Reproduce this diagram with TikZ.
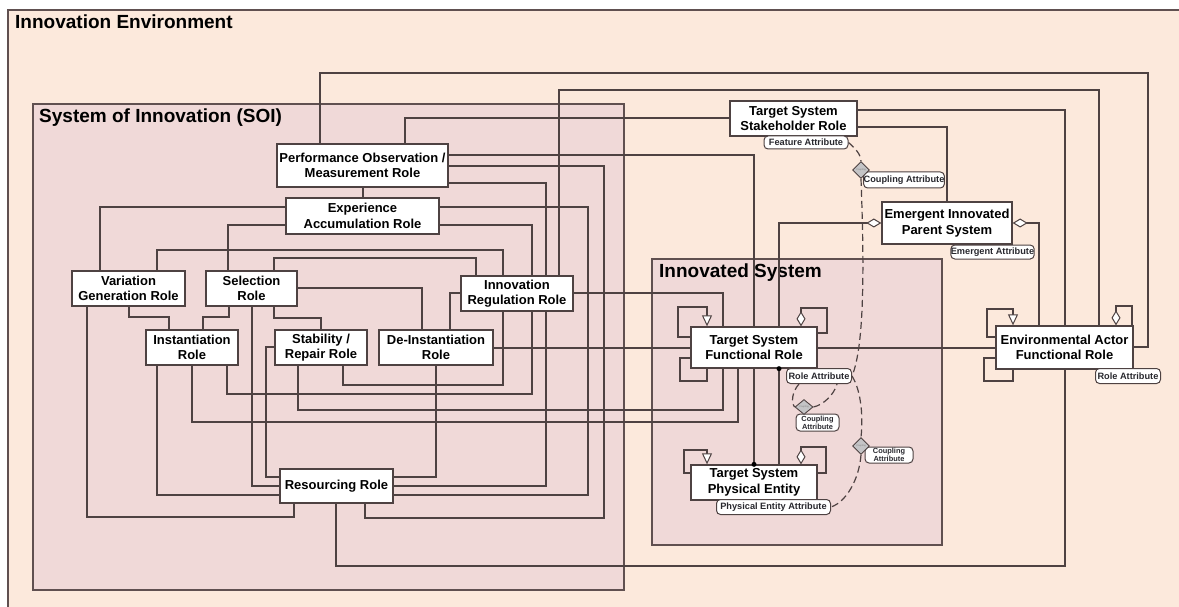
\documentclass[tikz,border=0pt]{standalone}
\usepackage{fontspec}
\setmainfont{Liberation Sans}
\usetikzlibrary{arrows.meta,shapes.geometric}
\definecolor{envbg}{RGB}{252,233,220}
\definecolor{soibg}{RGB}{240,217,216}
\definecolor{linec}{RGB}{78,66,66}
\definecolor{framec}{RGB}{96,80,80}
\definecolor{attrtext}{RGB}{40,40,46}
\definecolor{coupfill}{RGB}{196,196,198}
\pgfdeclarelayer{frames}
\pgfdeclarelayer{wires}
\pgfsetlayers{frames,wires,main}
\begin{document}
\begin{tikzpicture}[x=1pt,y=-1pt,
  conn/.style={draw=linec,line width=1.25pt},
  dcoup/.style={draw=linec,line width=1.2pt,dash pattern=on 7pt off 4pt},
  rolebox/.style={draw=linec,fill=white,line width=1.3pt,align=center,inner sep=0pt,
    font=\bfseries\fontsize{13}{15.5}\selectfont},
  attr/.style={draw=linec,fill=white,line width=1pt,rounded corners=4pt,inner sep=0pt,
    align=center,text=attrtext,font=\bfseries\fontsize{9.2}{9.5}\selectfont},
  smallattr/.style={attr,font=\bfseries\fontsize{7.4}{7.8}\selectfont},
  couple/.style={shape=diamond,draw=linec,fill=coupfill,line width=0.9pt,inner sep=0pt},
  couptext/.style={text=gray,font=\fontsize{2.4}{2.6}\selectfont,inner sep=0pt},
  frametitle/.style={anchor=base west,inner sep=0pt,font=\bfseries\fontsize{19}{22}\selectfont},
  gen/.style={-{Triangle[length=11pt,width=10pt,fill=white,line width=1pt]}},
  agg/.style={-{Diamond[length=15pt,width=9pt,fill=white,line width=1pt]}},
  aggh/.style={-{Diamond[length=15pt,width=9pt,fill=white,line width=1pt]}},
  joint/.style={fill=black}
]
\clip (0,0) rectangle (1179,607);
\useasboundingbox (0,0) rectangle (1179,607);

% nested environment frames
\begin{pgfonlayer}{frames}
\fill[white] (0,0) rectangle (1179,607);
\draw[framec,fill=envbg,line width=1.4pt] (8,10) rectangle (1195,625);
\node[frametitle] (envtitle) at (15,29) {Innovation Environment};
\draw[framec,fill=soibg,line width=1.4pt] (33,104) rectangle (624,590);
\node[frametitle] (soititle) at (39,123) {System of Innovation (SOI)};
\draw[framec,fill=soibg,line width=1.4pt] (652,259) rectangle (942,545);
\node[frametitle] (istitle) at (659,277) {Innovated System};
\end{pgfonlayer}

% role boxes
\node[rolebox,minimum width=171pt,minimum height=43pt] (perf) at (362.5,165.5) {Performance Observation /\\Measurement Role};
\node[rolebox,minimum width=153pt,minimum height=36pt] (exp) at (362.5,216) {Experience\\Accumulation Role};
\node[rolebox,minimum width=113pt,minimum height=35pt] (var) at (128.5,288.5) {Variation\\Generation Role};
\node[rolebox,minimum width=91pt,minimum height=35pt] (sel) at (251.5,288.5) {Selection\\Role};
\node[rolebox,minimum width=92pt,minimum height=35pt] (inst) at (192,347.5) {Instantiation\\Role};
\node[rolebox,minimum width=92pt,minimum height=35pt] (stab) at (321,347.5) {Stability /\\Repair Role};
\node[rolebox,minimum width=114pt,minimum height=35pt] (deinst) at (436,347.5) {De-Instantiation\\Role};
\node[rolebox,minimum width=112pt,minimum height=35pt] (inreg) at (517,293.5) {Innovation\\Regulation Role};
\node[rolebox,minimum width=113pt,minimum height=34pt] (res) at (336.5,486) {Resourcing Role};
\node[rolebox,minimum width=127pt,minimum height=35pt] (stake) at (793.5,118.5) {Target System\\Stakeholder Role};
\node[rolebox,minimum width=130pt,minimum height=42pt] (emerg) at (947,223) {Emergent Innovated\\Parent System};
\node[rolebox,minimum width=126pt,minimum height=41pt] (tsfr) at (754,347.5) {Target System\\Functional Role};
\node[rolebox,minimum width=126pt,minimum height=35pt] (tspe) at (754,482.5) {Target System\\Physical Entity};
\node[rolebox,minimum width=137pt,minimum height=43pt] (env) at (1064.5,347.5) {Environmental Actor\\Functional Role};

% attribute tags
\node[attr,minimum width=84pt,minimum height=13pt] (fa) at (806,142.5) {Feature Attribute};
\node[attr,minimum width=80pt,minimum height=16pt] (ca1) at (904,180) {Coupling Attribute};
\node[attr,minimum width=82pt,minimum height=14pt] (ea) at (992.5,252) {Emergent Attribute};
\node[attr,minimum width=65pt,minimum height=15pt] (ra1) at (819,376) {Role Attribute};
\node[attr,minimum width=65pt,minimum height=15pt] (ra2) at (1128,376) {Role Attribute};
\node[smallattr,minimum width=43pt,minimum height=17pt] (ca2) at (817.5,422.5) {Coupling\\Attribute};
\node[smallattr,minimum width=48pt,minimum height=16pt] (ca3) at (889,455) {Coupling\\Attribute};
\node[attr,minimum width=114pt,minimum height=15pt] (pea) at (773.5,507) {Physical Entity Attribute};

% coupling diamonds
\node[couple,minimum width=17pt,minimum height=17pt] (c1) at (861,170) {};
\node[couple,minimum width=18pt,minimum height=15pt] (c2) at (804,407) {};
\node[couple,minimum width=17pt,minimum height=17pt] (c3) at (861,446) {};
\foreach \c in {c1,c2,c3} \node[couptext] at (\c) {Coupling};

% connectors between roles
\begin{pgfonlayer}{wires}
\draw[conn] (perf.north -| 320,0) |- (1148,73) |- (env.east |- 0,347);
\draw[conn] (inreg.north -| 559,0) |- (1099,90) -- (env.north -| 1099,0);
\draw[conn] (stake.east |- 0,110) -| (env.north -| 1065,0);
\draw[conn] (stake.east |- 0,127) -| (emerg.north);
\draw[conn] (stake.west |- 0,118) -| (perf.north -| 405,0);
\draw[conn] (perf.east |- 0,155) -| (tspe.north);
\draw[conn] (perf.east |- 0,166) -| (604,518) -| (res.south -| 365,0);
\draw[conn] (perf.east |- 0,183) -| (546,486) -- (res.east |- 0,486);
\draw[conn] (exp.east |- 0,207) -| (588,495) -- (res.east |- 0,495);
\draw[conn] (exp.east |- 0,225) -| (532,394) -| (inst.south -| 227,0);
\draw[conn] (perf.south -| 363,0) -- (exp.north -| 363,0);
\draw[conn] (exp.west |- 0,207) -| (var.north -| 100,0);
\draw[conn] (exp.west |- 0,225) -| (sel.north -| 228,0);
\draw[conn] (var.north -| 157,0) |- (503,250) |- (343,385) -- (stab.south -| 343,0);
\draw[conn] (sel.north -| 274,0) |- (476,258) -- (inreg.north -| 476,0);
\draw[conn] (sel.east |- 0,288) -| (deinst.north -| 422,0);
\draw[conn] (inreg.west |- 0,293) -| (deinst.north -| 450,0);
\draw[conn] (var.south -| 129,0) |- (169,317) -- (inst.north -| 169,0);
\draw[conn] (sel.south -| 229,0) |- (203,317) -- (inst.north -| 203,0);
\draw[conn] (sel.south -| 274,0) |- (321,318) -- (stab.north);
\draw[conn] (var.south -| 87,0) |- (294,517) -- (res.south -| 294,0);
\draw[conn] (sel.south -| 252,0) |- (res.west |- 0,486);
\draw[conn] (stab.west |- 0,347) -| (266,477) -- (res.west |- 0,477);
\draw[conn] (inst.south -| 157,0) |- (res.west |- 0,495);
\draw[conn] (inst.south -| 192,0) |- (738,422) -- (tsfr.south -| 738,0);
\draw[conn] (stab.south -| 298,0) |- (723,410) |- (inreg.east |- 0,293);
\draw[conn] (deinst.south) |- (res.east |- 0,477);
\draw[conn] (deinst.east |- 0,348) -- (tsfr.west |- 0,348);
\draw[conn] (tsfr.east |- 0,348) -- (env.west |- 0,348);
\draw[conn] (res.south -| 336,0) |- (1065,566) -- (env.south -| 1065,0);
\draw[conn] (tsfr.south -| 779,0) -- (tspe.north -| 779,0);

% aggregation into the emergent parent system
\draw[conn,aggh] (tsfr.north -| 779,0) |- (emerg.west);
\draw[conn,aggh] (env.north -| 1039,0) |- (emerg.east);

% self associations
\draw[conn,gen] (tsfr.west |- 0,337) -| (678,307) -| (tsfr.north -| 707,0);
\draw[conn] (tsfr.west |- 0,358) -| (680,381) -| (tsfr.south -| 707,0);
\draw[conn,agg] (tsfr.east |- 0,333) -| (827,308) -| (tsfr.north -| 801,0);
\draw[conn,gen] (tspe.west |- 0,473) -| (684,450) -| (tspe.north -| 707,0);
\draw[conn,agg] (tspe.east |- 0,473) -| (826,447) -| (tspe.north -| 801,0);
\draw[conn,gen] (env.west |- 0,337) -| (987,309) -| (env.north -| 1013,0);
\draw[conn] (env.west |- 0,358) -| (984,381) -| (env.south -| 1013,0);
\draw[conn,agg] (env.north -| 1132,0) |- (1116,306) -- (env.north -| 1116,0);
\end{pgfonlayer}

% attribute couplings
\draw[dcoup] (fa.east) .. controls (856,149) and (861,155) .. (c1.north);
\draw[dcoup] (c1.south) .. controls (864,260) and (865,345) .. (ra1.east);
\draw[dcoup] (ra1.east) .. controls (862,392) and (863,420) .. (c3.north);
\draw[dcoup] (c3.south) .. controls (859,480) and (846,502) .. (pea.east);
\draw[dcoup] ([xshift=-20pt]ra1.south) .. controls (792,392) and (791,402) .. (c2.west);
\draw[dcoup] (c2.east) .. controls (823,405) and (834,395) .. ([xshift=18pt]ra1.south);

% joints
\fill[joint] (tspe.north) circle (2.5pt);
\fill[joint] (tsfr.south -| 779,0) circle (2.5pt);
\end{tikzpicture}
\end{document}
